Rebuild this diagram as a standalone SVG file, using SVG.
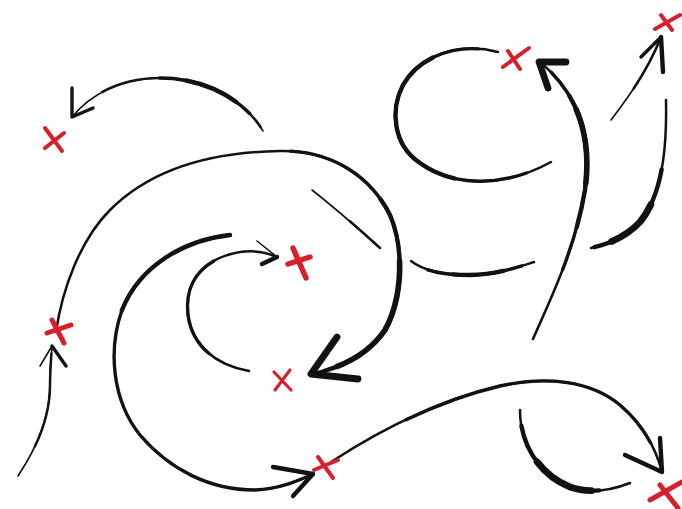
<svg xmlns="http://www.w3.org/2000/svg" width="682" height="509" viewBox="0 0 682 509">
<style>
.ink{fill:none;stroke:#121212;stroke-linecap:round;stroke-linejoin:round}
.w1{stroke-width:1.6}.w2{stroke-width:2.5}.w3{stroke-width:3.4}.w4{stroke-width:4.4}.w5{stroke-width:5.6}.w6{stroke-width:6.8}
.mk{fill:none;stroke:#d7202b;stroke-linecap:round;stroke-width:4}
</style>
<defs>
  <path id="pA" pathLength="100" d="M263,131 C245,100 205,78 160,78 C120,78 90,95 72,117"/>
  <path id="pB" pathLength="100" d="M56,332 C62,290 80,240 110,210 C150,170 210,152 280,151 C330,150 370,175 390,215 C405,250 402,300 385,330 C370,352 345,367 312,374"/>
  <path id="pLL" pathLength="100" d="M18,476 C35,450 50,420 50,385 C50,370 51,358 52,347"/>
  <path id="pC" pathLength="100" d="M312,190 C340,212 360,230 380,248"/>
  <path id="pD" pathLength="100" d="M249,371 C215,365 192,345 188,315 C184,280 205,258 240,252 C255,250 268,253 277,257"/>
  <path id="pE" pathLength="100" d="M230,235 C185,240 140,265 122,310 C108,350 112,400 140,435 C170,470 210,490 255,490 C280,489 300,480 313,474"/>
  <path id="pF" pathLength="100" d="M331,462 C380,430 440,400 500,386 C545,376 590,380 620,405 C640,422 655,445 662,472"/>
  <path id="pG" pathLength="100" d="M520,410 C520,445 540,475 570,487 C590,494 612,490 630,483"/>
  <path id="pH" pathLength="100" d="M411,261 C425,272 445,275 470,275 C495,275 515,268 534,262"/>
  <path id="pJ" pathLength="100" d="M533,339 C550,300 575,250 585,190 C592,140 580,95 540,62"/>
  <path id="pK" pathLength="100" d="M498,52 C460,42 420,55 403,85 C390,110 393,145 420,163 C450,185 500,190 551,162"/>
  <path id="pL" pathLength="100" d="M611,120 C630,95 648,70 661,37"/>
  <path id="pM" pathLength="100" d="M666,100 C667,150 662,195 640,222 C625,238 605,245 591,248"/>
</defs>
<rect width="682" height="509" fill="#fff"/>
<g id="connectors">
  <!-- A -->
  <use href="#pA" class="ink w1"/>
  <use href="#pA" class="ink w2" style="stroke-dasharray:80 200;stroke-dashoffset:-2"/>
  <use href="#pA" class="ink w3" style="stroke-dasharray:45 200;stroke-dashoffset:-10"/>
  <use href="#pA" class="ink w4" style="stroke-dasharray:25 200;stroke-dashoffset:-18"/>
  <path class="ink w3" d="M72,88 L72,117 L93,108"/>
  <!-- B -->
  <use href="#pB" class="ink w2"/>
  <use href="#pB" class="ink w3" style="stroke-dasharray:50 200;stroke-dashoffset:-50"/>
  <use href="#pB" class="ink w4" style="stroke-dasharray:32 200;stroke-dashoffset:-66"/>
  <use href="#pB" class="ink w5" style="stroke-dasharray:20 200;stroke-dashoffset:-76"/>
  <path class="ink w6" d="M337,337 L311,374 L358,379"/>
  <!-- lower left -->
  <use href="#pLL" class="ink w1"/>
  <use href="#pLL" class="ink w2" style="stroke-dasharray:70 200;stroke-dashoffset:-25"/>
  <path class="ink w1" d="M40,366 L52,346"/>
  <path class="ink w3" d="M52,346 L66,366"/>
  <!-- C -->
  <use href="#pC" class="ink w1"/>
  <use href="#pC" class="ink w2" style="stroke-dasharray:45 200;stroke-dashoffset:-55"/>
  <!-- D -->
  <use href="#pD" class="ink w2"/>
  <use href="#pD" class="ink w3" style="stroke-dasharray:50 200;stroke-dashoffset:-20"/>
  <path class="ink w1" d="M257,241 L277,257"/>
  <path class="ink w4" d="M262,264 L277,257"/>
  <!-- E -->
  <use href="#pE" class="ink w3"/>
  <use href="#pE" class="ink w4" style="stroke-dasharray:30 200;stroke-dashoffset:0"/>
  <path class="ink w4" d="M273,467 L313,474 L293,496"/>
  <!-- F -->
  <use href="#pF" class="ink w2"/>
  <use href="#pF" class="ink w3" style="stroke-dasharray:70 200;stroke-dashoffset:-22"/>
  <path class="ink w4" d="M625,455 L662,472 L660,438"/>
  <!-- G -->
  <use href="#pG" class="ink w2"/>
  <use href="#pG" class="ink w4" style="stroke-dasharray:70 200;stroke-dashoffset:-10"/>
  <use href="#pG" class="ink w6" style="stroke-dasharray:40 200;stroke-dashoffset:-35"/>
  <!-- H -->
  <use href="#pH" class="ink w2"/>
  <use href="#pH" class="ink w3" style="stroke-dasharray:75 200;stroke-dashoffset:-15"/>
  <use href="#pH" class="ink w4" style="stroke-dasharray:40 200;stroke-dashoffset:-35"/>
  <!-- J -->
  <use href="#pJ" class="ink w2"/>
  <use href="#pJ" class="ink w3" style="stroke-dasharray:70 200;stroke-dashoffset:-25"/>
  <use href="#pJ" class="ink w4" style="stroke-dasharray:45 200;stroke-dashoffset:-40"/>
  <use href="#pJ" class="ink w5" style="stroke-dasharray:25 200;stroke-dashoffset:-55"/>
  <path class="ink w6" d="M548,88 L539,62 L566,62"/>
  <!-- K -->
  <use href="#pK" class="ink w2"/>
  <use href="#pK" class="ink w3" style="stroke-dasharray:86 200;stroke-dashoffset:-6"/>
  <use href="#pK" class="ink w4" style="stroke-dasharray:50 200;stroke-dashoffset:-20"/>
  <!-- L -->
  <use href="#pL" class="ink w1"/>
  <use href="#pL" class="ink w2" style="stroke-dasharray:60 200;stroke-dashoffset:-40"/>
  <path class="ink w3" d="M641,57 L661,37"/>
  <path class="ink w4" d="M661,37 L663,72"/>
  <!-- M -->
  <use href="#pM" class="ink w2"/>
  <use href="#pM" class="ink w4" style="stroke-dasharray:60 200;stroke-dashoffset:-38"/>
  <use href="#pM" class="ink w6" style="stroke-dasharray:30 200;stroke-dashoffset:-58"/>
</g>
<g id="x1"><path class="mk" d="M45,128 L62,151 M45,148 L64,133"/></g>
<g id="x2"><path class="mk" d="M503,67 L529,48 M508,51 L520,69"/></g>
<g id="x3"><path class="mk" d="M655,29 L680,15 M661,15 L672,30"/></g>
<g id="x4"><path class="mk" style="stroke-width:5.5" d="M288,264 L310,257 M293,248 L306,278"/></g>
<g id="x5"><path class="mk" style="stroke-width:3.2" d="M274,372 L291,390 M290,370 L275,390"/></g>
<g id="x6"><path class="mk" style="stroke-width:5" d="M47,333 L71,325 M52,320 L64,343"/></g>
<g id="x7"><path class="mk" d="M314,470 L338,460 M318,457 L333,478"/></g>
<g id="x8"><path class="mk" style="stroke-width:5" d="M650,500 L682,482 M660,485 L678,508"/></g>
</svg>
